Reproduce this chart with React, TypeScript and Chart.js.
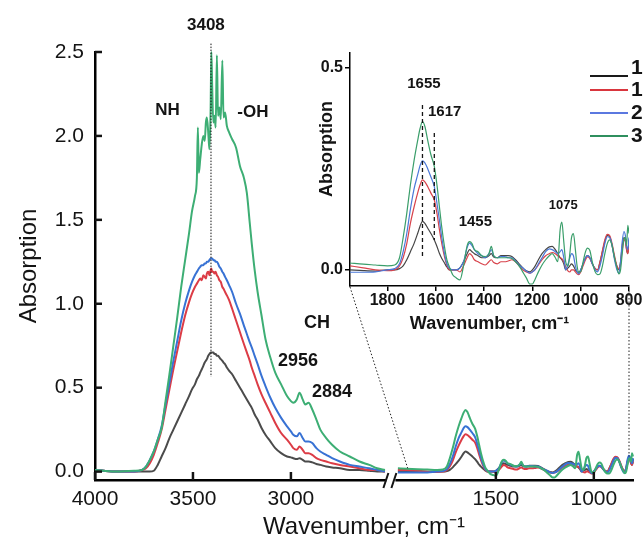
import React, { useEffect, useRef } from 'react';
import { Chart, registerables } from 'chart.js';

Chart.register(...registerables);

const FONT = '"Liberation Sans", Arial, Helvetica, sans-serif';
const INK = '#141414';
Chart.defaults.font.family = FONT;
Chart.defaults.color = INK;

// ---------- data: high-wavenumber section (4000-2500 cm-1) ----------
const wnHigh = [
  4000, 3900, 3800, 3760, 3740, 3720, 3700, 3680, 3660, 3640,
  3620, 3600, 3580, 3560, 3540, 3520, 3505, 3490, 3480, 3475,
  3470, 3463, 3455, 3447, 3440, 3434, 3429, 3422, 3416, 3410,
  3406, 3402, 3396, 3390, 3384, 3378, 3372, 3365, 3358, 3350,
  3344, 3336, 3327, 3315, 3300, 3280, 3260, 3240, 3225, 3210,
  3200, 3185, 3170, 3150, 3130, 3105, 3080, 3050, 3020, 3000,
  2988, 2970, 2956, 2940, 2927, 2910, 2891, 2870, 2850, 2820,
  2790, 2750, 2700, 2650, 2600, 2560, 2520,
];
const greenHigh = [
  0.01, 0.0, 0.005, 0.01, 0.03, 0.07, 0.12, 0.19, 0.26, 0.42,
  0.58, 0.75, 0.92, 1.1, 1.26, 1.42, 1.55, 1.64, 1.75, 2.05,
  1.78, 1.86, 1.95, 2.0, 1.97, 2.08, 2.11, 2.02, 1.92, 2.15,
  2.5, 2.3, 2.08, 2.12, 2.05, 2.48, 2.12, 2.17, 2.1, 2.45,
  2.11, 2.14, 2.06, 2.02, 1.98, 1.93, 1.82, 1.75, 1.66, 1.48,
  1.36, 1.2, 1.07, 0.93, 0.79, 0.68, 0.59, 0.52, 0.45, 0.42,
  0.41, 0.43, 0.47, 0.43, 0.4, 0.41, 0.37, 0.31, 0.25, 0.2,
  0.16, 0.12, 0.09, 0.06, 0.04, 0.02, 0.01,
];
const blueHigh = [
  0.01, 0.0, 0.0, 0.01, 0.03, 0.07, 0.12, 0.19, 0.27, 0.4,
  0.53, 0.66, 0.78, 0.9, 1.0, 1.08, 1.13, 1.17, 1.19, 1.2,
  1.21, 1.22, 1.23, 1.23, 1.24, 1.24, 1.25, 1.25, 1.26, 1.27,
  1.27, 1.27, 1.26, 1.26, 1.25, 1.25, 1.24, 1.22, 1.21, 1.19,
  1.18, 1.16, 1.14, 1.11, 1.07, 1.0, 0.94, 0.87, 0.82, 0.77,
  0.74, 0.69, 0.64, 0.57, 0.51, 0.44, 0.38, 0.32, 0.27, 0.24,
  0.22, 0.21, 0.23, 0.2, 0.18, 0.18, 0.17, 0.14, 0.12, 0.1,
  0.08, 0.06, 0.04, 0.03, 0.02, 0.01, 0.0,
];
const redHigh = [
  0.01, 0.0, 0.0, 0.01, 0.02, 0.05, 0.1, 0.17, 0.25, 0.37,
  0.49, 0.61, 0.72, 0.83, 0.93, 1.01, 1.06, 1.1, 1.12, 1.13,
  1.14, 1.15, 1.14, 1.17, 1.16, 1.15, 1.18, 1.19, 1.17, 1.2,
  1.21, 1.19, 1.19, 1.18, 1.19, 1.17, 1.16, 1.14, 1.13, 1.1,
  1.09, 1.07, 1.05, 1.02, 0.97, 0.9, 0.83, 0.76, 0.71, 0.66,
  0.62, 0.57, 0.52, 0.46, 0.41, 0.35, 0.29, 0.23, 0.19, 0.16,
  0.14, 0.13, 0.15, 0.13, 0.11, 0.11, 0.1, 0.08, 0.07, 0.06,
  0.05, 0.04, 0.03, 0.02, 0.01, 0.01, 0.0,
];
const blackHigh = [
  0.01, 0.0, 0.0, 0.0, 0.0, 0.0, 0.005, 0.04, 0.09, 0.14,
  0.2, 0.25, 0.3, 0.35, 0.4, 0.45, 0.49, 0.52, 0.55, 0.56,
  0.57, 0.59, 0.61, 0.63, 0.65, 0.66, 0.67, 0.69, 0.7, 0.71,
  0.71, 0.71, 0.71, 0.7, 0.7, 0.69, 0.69, 0.68, 0.67, 0.66,
  0.65, 0.64, 0.62, 0.6, 0.58, 0.54, 0.5, 0.46, 0.43, 0.4,
  0.38, 0.34, 0.31, 0.26, 0.22, 0.18, 0.14, 0.11, 0.09, 0.085,
  0.08, 0.075, 0.08, 0.07, 0.06, 0.06, 0.055, 0.045, 0.04, 0.03,
  0.025, 0.02, 0.01, 0.01, 0.005, 0.0, 0.0,
];

// ---------- data: low-wavenumber section (2000-800 cm-1) ----------
const wnLow = [
  2000, 1955, 1900, 1850, 1800, 1770, 1750, 1735, 1720, 1705,
  1690, 1675, 1665, 1655, 1645, 1633, 1620, 1606, 1595, 1585,
  1575, 1564, 1554, 1544, 1530, 1515, 1500, 1485, 1470, 1460,
  1450, 1440, 1425, 1410, 1395, 1380, 1370, 1360, 1345, 1330,
  1315, 1300, 1285, 1270, 1255, 1240, 1225, 1210, 1200, 1190,
  1175, 1160, 1145, 1130, 1118, 1105, 1095, 1085, 1078, 1070,
  1062, 1052, 1045, 1038, 1030, 1022, 1015, 1008, 1000, 990,
  980, 972, 962, 952, 940, 930, 920, 910, 900, 890,
  880, 870, 860, 850, 842, 835, 828, 821, 815, 810,
  805, 800,
];
const greenLow = [
  0.02, 0.017, 0.014, 0.012, 0.01, 0.012, 0.03, 0.08, 0.14, 0.21,
  0.27, 0.32, 0.35, 0.367, 0.355, 0.32, 0.285, 0.256, 0.21, 0.157,
  0.105, 0.058, 0.025, 0.008, -0.012, -0.02, -0.025, 0.01, 0.06, 0.07,
  0.065, 0.05, 0.045, 0.035, 0.033, 0.04, 0.058, 0.035, 0.03, 0.03,
  0.03, 0.03, 0.028, 0.02, 0.01, -0.005, -0.02, -0.035, -0.035, -0.025,
  -0.005, 0.012, 0.025, 0.035, 0.04, 0.03, 0.02, 0.1, 0.118, 0.07,
  0.02, 0.01, 0.04, 0.08, 0.09, 0.05, 0.01, -0.005, -0.005, 0.02,
  0.045, 0.054, 0.048, 0.02, -0.005, -0.012, -0.01, 0.01, 0.04, 0.065,
  0.074, 0.06, 0.03, 0.005, -0.01, 0.0, 0.04, 0.075, 0.08, 0.06,
  0.11, 0.09,
];
const blueLow = [
  -0.005, -0.006, -0.006, -0.005, 0.0, 0.003, 0.015, 0.045, 0.09, 0.15,
  0.2, 0.235, 0.258, 0.27, 0.265, 0.25, 0.23, 0.206, 0.165, 0.124,
  0.08, 0.041, 0.015, 0.004, 0.0, 0.0, 0.005, 0.02, 0.055, 0.066,
  0.06, 0.05, 0.04, 0.035, 0.03, 0.04, 0.05, 0.035, 0.03, 0.033,
  0.033, 0.03, 0.03, 0.022, 0.012, 0.005, -0.003, -0.008, -0.005, 0.0,
  0.015, 0.03, 0.045, 0.052, 0.05, 0.045, 0.04, 0.045, 0.05, 0.03,
  0.0, 0.015, 0.03, 0.04, 0.035, 0.01, -0.005, -0.01, 0.0, 0.015,
  0.03, 0.035, 0.03, 0.015, 0.0, -0.005, 0.01, 0.035, 0.065, 0.082,
  0.08, 0.06, 0.025, 0.0, -0.008, 0.02, 0.07, 0.095, 0.085, 0.06,
  0.05, 0.08,
];
const redLow = [
  0.01, 0.01, 0.005, 0.0, -0.002, 0.0, 0.01, 0.03, 0.065, 0.115,
  0.155, 0.19, 0.21, 0.223, 0.218, 0.206, 0.19, 0.173, 0.14, 0.1,
  0.065, 0.033, 0.012, 0.0, 0.0, 0.0, -0.005, 0.01, 0.03, 0.04,
  0.035, 0.025, 0.02, 0.015, 0.012, 0.02, 0.025, 0.018, 0.015, 0.02,
  0.02, 0.022, 0.025, 0.02, 0.01, 0.0, -0.005, -0.008, -0.005, 0.0,
  0.012, 0.025, 0.035, 0.04, 0.043, 0.04, 0.035, 0.03, 0.028, 0.02,
  0.008, -0.003, -0.005, 0.0, 0.0, -0.005, -0.01, -0.012, -0.005, 0.01,
  0.025, 0.032, 0.028, 0.015, 0.003, 0.0, 0.02, 0.048, 0.075, 0.088,
  0.085, 0.065, 0.035, 0.01, 0.003, 0.015, 0.05, 0.075, 0.07, 0.05,
  0.04, 0.06,
];
const blackLow = [
  0.0, 0.0, -0.002, -0.003, 0.0, 0.0, 0.003, 0.01, 0.025, 0.045,
  0.065, 0.09, 0.108, 0.12, 0.115, 0.103, 0.09, 0.074, 0.058, 0.041,
  0.028, 0.017, 0.007, 0.0, 0.0, 0.0, 0.005, 0.02, 0.04, 0.05,
  0.045, 0.04, 0.035, 0.03, 0.03, 0.035, 0.04, 0.032, 0.03, 0.035,
  0.035, 0.035, 0.033, 0.025, 0.015, 0.005, -0.002, -0.005, 0.0, 0.008,
  0.025, 0.04, 0.05, 0.057, 0.058, 0.05, 0.04, 0.03, 0.025, 0.015,
  0.0, 0.005, 0.01, 0.015, 0.01, 0.0, -0.005, -0.008, 0.0, 0.015,
  0.03, 0.035, 0.03, 0.015, 0.003, 0.0, 0.02, 0.045, 0.07, 0.085,
  0.082, 0.06, 0.03, 0.008, 0.0, 0.02, 0.06, 0.08, 0.075, 0.05,
  0.04, 0.075,
];

// ---------- series / ticks / labels ----------
const legendLabels = ['1', '1', '2', '3'];
const mainColors = ['#4b4b4b', '#dc3c46', '#3872d4', '#3dae74'];
const insetColors = ['#454545', '#d8434b', '#4a78d8', '#3a9e6a'];
const legendColors = ['#1a1a1a', '#d9363e', '#5b78e0', '#2f8f5e'];

const mainXTicks = [4000, 3500, 3000, 1500, 1000];
const mainYTicks = [0, 0.5, 1.0, 1.5, 2.0, 2.5];
const insetXTicks = [1800, 1600, 1400, 1200, 1000, 800];
const insetYTicks = [0, 0.5];

const mainAnnotations = [
  { text: '3408', wn: 3434, abs: 2.66, size: 17 },
  { text: 'NH', wn: 3630, abs: 2.15, size: 17 },
  { text: '-OH', wn: 3194, abs: 2.14, size: 17 },
  { text: 'CH', wn: 2867, abs: 0.885, size: 18 },
  { text: '2956', wn: 2964, abs: 0.66, size: 18 },
  { text: '2884', wn: 2790, abs: 0.474, size: 18 },
];
const insetAnnotations = [
  { text: '1655', wn: 1649, abs: 0.46, size: 15 },
  { text: '1617', wn: 1563, abs: 0.392, size: 15 },
  { text: '1455', wn: 1436, abs: 0.119, size: 15 },
  { text: '1075', wn: 1072, abs: 0.159, size: 13 },
];

// broken x-axis mapping: 4000-2500 | gap | 2000-800
const HIGH_END = 2500;
const LOW_START = 2000;
const GAP = 46;
const toMainX = (w: number) =>
  w >= 2250 ? 4000 - w : 4000 - HIGH_END + GAP + (LOW_START - w);
const fromMainX = (x: number) =>
  x <= 4000 - HIGH_END ? 4000 - x : LOW_START - (x - (4000 - HIGH_END) - GAP);
const MAIN_X_MAX = toMainX(800);

const highSeries = [greenHigh, blueHigh, redHigh, blackHigh];
const lowSeries = [greenLow, blueLow, redLow, blackLow];
// drawing order: first dataset is drawn on top
const drawOrder = [3, 2, 1, 0]; // indexes into legend/colour arrays (black,red,blue,green)

function buildMainDatasets() {
  const ds: any[] = [];
  highSeries.forEach((vals, k) => {
    const ci = drawOrder[k];
    ds.push({
      data: wnHigh.map((w, i) => ({ x: toMainX(w), y: vals[i] })),
      borderColor: mainColors[ci],
      borderWidth: 2,
      pointRadius: 0,
      cubicInterpolationMode: 'monotone',
      clip: 4,
    });
  });
  lowSeries.forEach((vals, k) => {
    const ci = drawOrder[k];
    ds.push({
      data: wnLow.map((w, i) => ({ x: toMainX(w), y: vals[i] })),
      borderColor: mainColors[ci],
      borderWidth: 2,
      pointRadius: 0,
      cubicInterpolationMode: 'monotone',
      clip: 4,
    });
  });
  return ds;
}

function buildInsetDatasets() {
  return lowSeries.map((vals, k) => {
    const ci = drawOrder[k];
    const pts = wnLow
      .map((w, i) => ({ x: w, y: vals[i] }))
      .filter((p) => p.x <= 1960);
    return {
      data: pts,
      borderColor: insetColors[ci],
      borderWidth: 1.2,
      pointRadius: 0,
      cubicInterpolationMode: 'monotone',
    };
  });
}

const mainDecor = {
  id: 'mainDecor',
  afterDraw(chart: any) {
    const { ctx, chartArea: ca, scales } = chart;
    const x = scales.x;
    const y = scales.y;
    ctx.save();
    ctx.strokeStyle = INK;
    ctx.lineWidth = 2.5;
    // inward tick marks
    mainYTicks.forEach((v) => {
      const py = y.getPixelForValue(v);
      ctx.beginPath();
      ctx.moveTo(ca.left, py);
      ctx.lineTo(ca.left + 7, py);
      ctx.stroke();
    });
    mainXTicks.forEach((w) => {
      const px = x.getPixelForValue(toMainX(w));
      ctx.beginPath();
      ctx.moveTo(px, ca.bottom);
      ctx.lineTo(px, ca.bottom - 8);
      ctx.stroke();
    });
    // axis break
    const bx =
      (x.getPixelForValue(toMainX(HIGH_END)) + x.getPixelForValue(toMainX(LOW_START))) / 2 - 2;
    ctx.fillStyle = '#ffffff';
    ctx.fillRect(bx - 5, ca.bottom - 3, 9, 6);
    ctx.lineWidth = 2;
    ctx.beginPath();
    ctx.moveTo(bx - 8, ca.bottom + 8);
    ctx.lineTo(bx - 3, ca.bottom - 7);
    ctx.moveTo(bx, ca.bottom + 8);
    ctx.lineTo(bx + 5, ca.bottom - 7);
    ctx.stroke();
    // dotted line at 3408
    ctx.lineWidth = 1;
    ctx.setLineDash([1.5, 1.5]);
    const lx = x.getPixelForValue(toMainX(3408));
    ctx.beginPath();
    ctx.moveTo(lx, y.getPixelForValue(2.55));
    ctx.lineTo(lx, y.getPixelForValue(0.565));
    ctx.stroke();
    ctx.setLineDash([]);
    // annotations
    ctx.fillStyle = INK;
    ctx.textAlign = 'center';
    ctx.textBaseline = 'middle';
    mainAnnotations.forEach((a) => {
      ctx.font = `bold ${a.size}px ${FONT}`;
      ctx.fillText(a.text, x.getPixelForValue(toMainX(a.wn)), y.getPixelForValue(a.abs));
    });
    ctx.restore();
  },
};

function makeInsetDecor(getMain: () => any) {
  return {
    id: 'insetDecor',
    afterDraw(chart: any) {
      const { ctx, chartArea: ca, scales } = chart;
      const x = scales.x;
      const y = scales.y;
      ctx.save();
      // dashed marker lines
      ctx.strokeStyle = INK;
      ctx.lineWidth = 1.3;
      ctx.setLineDash([4, 3]);
      ctx.beginPath();
      ctx.moveTo(x.getPixelForValue(1655), y.getPixelForValue(0.408));
      ctx.lineTo(x.getPixelForValue(1655), y.getPixelForValue(0.03));
      ctx.moveTo(x.getPixelForValue(1606), y.getPixelForValue(0.339));
      ctx.lineTo(x.getPixelForValue(1606), y.getPixelForValue(0.074));
      ctx.stroke();
      ctx.setLineDash([]);
      // annotations
      ctx.fillStyle = INK;
      ctx.textAlign = 'center';
      ctx.textBaseline = 'middle';
      insetAnnotations.forEach((a) => {
        ctx.font = `bold ${a.size}px ${FONT}`;
        ctx.fillText(a.text, x.getPixelForValue(a.wn), y.getPixelForValue(a.abs));
      });
      // y title
      ctx.save();
      ctx.translate(ca.left - 23, ca.top + 96);
      ctx.rotate(-Math.PI / 2);
      ctx.font = `bold 18px ${FONT}`;
      ctx.fillText('Absorption', 0, 0);
      ctx.restore();
      // legend (extends past the right edge, as in the reference)
      const lineY = [76, 90, 113, 136];
      const textY = [68, 90, 113, 136];
      ctx.textAlign = 'left';
      ctx.font = `bold 21px ${FONT}`;
      legendLabels.forEach((lab, i) => {
        ctx.strokeStyle = legendColors[i];
        ctx.lineWidth = 2;
        ctx.beginPath();
        ctx.moveTo(ca.right - 39, lineY[i]);
        ctx.lineTo(ca.right - 1, lineY[i]);
        ctx.stroke();
        ctx.fillStyle = INK;
        ctx.fillText(lab, ca.right + 2, textY[i]);
      });
      // connector lines to main chart
      const main = getMain();
      if (main && main.scales && main.scales.x) {
        const mx = main.scales.x;
        const my = main.scales.y;
        ctx.strokeStyle = '#222';
        ctx.lineWidth = 1;
        ctx.setLineDash([1.5, 2]);
        ctx.beginPath();
        ctx.moveTo(ca.left, ca.bottom + 1);
        ctx.lineTo(mx.getPixelForValue(toMainX(1950)), my.getPixelForValue(0.02));
        const vx = x.getPixelForValue(800);
        ctx.moveTo(vx, ca.bottom + 5);
        ctx.lineTo(vx, my.getPixelForValue(0.09));
        ctx.stroke();
        ctx.setLineDash([]);
      }
      ctx.restore();
    },
  };
}

export default function App() {
  const mainRef = useRef<HTMLCanvasElement>(null);
  const insetRef = useRef<HTMLCanvasElement>(null);

  useEffect(() => {
    const main = new Chart(mainRef.current as HTMLCanvasElement, {
      type: 'line',
      data: { datasets: buildMainDatasets() },
      options: {
        responsive: false,
        animation: false,
        layout: { padding: { top: 52, right: 10, left: 0, bottom: 0 } },
        plugins: { legend: { display: false }, tooltip: { enabled: false } },
        scales: {
          x: {
            type: 'linear',
            min: 0,
            max: MAIN_X_MAX,
            grid: { display: false, drawTicks: false },
            border: { display: true, color: '#000', width: 2.5 },
            afterBuildTicks: (s: any) => {
              s.ticks = mainXTicks.map((w) => ({ value: toMainX(w) }));
            },
            afterFit: (s: any) => {
              s.height = 70;
            },
            ticks: {
              autoSkip: false,
              maxRotation: 0,
              padding: 7,
              color: INK,
              font: { size: 21, family: FONT },
              callback: (v: any) => String(Math.round(fromMainX(Number(v)))),
            },
            title: {
              display: true,
              text: 'Wavenumber, cm⁻¹',
              color: INK,
              font: { size: 24, family: FONT },
              padding: { top: 0, bottom: 8 },
            },
          },
          y: {
            type: 'linear',
            min: -0.05,
            max: 2.5,
            grid: { display: false, drawTicks: false },
            border: { display: true, color: '#000', width: 2.5 },
            afterBuildTicks: (s: any) => {
              s.ticks = mainYTicks.map((v) => ({ value: v }));
            },
            afterFit: (s: any) => {
              s.width = 95;
            },
            ticks: {
              autoSkip: false,
              padding: 11,
              color: INK,
              font: { size: 21, family: FONT },
              callback: (v: any) => Number(v).toFixed(1),
            },
            title: {
              display: true,
              text: 'Absorption',
              color: INK,
              font: { size: 24, family: FONT },
              padding: { top: 15, bottom: 0 },
            },
          },
        },
      } as any,
      plugins: [mainDecor],
    } as any);

    const inset = new Chart(insetRef.current as HTMLCanvasElement, {
      type: 'line',
      data: { datasets: buildInsetDatasets() },
      options: {
        responsive: false,
        animation: false,
        layout: { padding: { top: 53, right: 14, left: 290, bottom: 210 } },
        plugins: { legend: { display: false }, tooltip: { enabled: false } },
        scales: {
          x: {
            type: 'linear',
            reverse: true,
            min: 800,
            max: 1955,
            grid: {
              display: true,
              drawOnChartArea: false,
              drawTicks: true,
              tickLength: 5,
              color: '#000',
              lineWidth: 1.5,
            },
            border: { display: true, color: '#000', width: 1.5 },
            afterBuildTicks: (s: any) => {
              s.ticks = insetXTicks.map((w) => ({ value: w }));
            },
            afterFit: (s: any) => {
              s.height = 54;
            },
            ticks: {
              autoSkip: false,
              maxRotation: 0,
              padding: 0,
              color: INK,
              font: { size: 16, weight: 'bold', family: FONT },
              callback: (v: any) => String(v),
            },
            title: {
              display: true,
              text: 'Wavenumber, cm⁻¹',
              color: INK,
              font: { size: 18, weight: 'bold', family: FONT },
              padding: { top: 0, bottom: 5 },
            },
          },
          y: {
            type: 'linear',
            min: -0.04,
            max: 0.537,
            grid: {
              display: true,
              drawOnChartArea: false,
              drawTicks: true,
              tickLength: 5,
              color: '#000',
              lineWidth: 1.5,
            },
            border: { display: true, color: '#000', width: 1.5 },
            afterBuildTicks: (s: any) => {
              s.ticks = insetYTicks.map((v) => ({ value: v }));
            },
            afterFit: (s: any) => {
              s.width = 60;
            },
            ticks: {
              autoSkip: false,
              padding: 2,
              color: INK,
              font: { size: 16, weight: 'bold', family: FONT },
              callback: (v: any) => Number(v).toFixed(1),
            },
            title: { display: false },
          },
        },
      } as any,
      plugins: [makeInsetDecor(() => main)],
    } as any);

    return () => {
      inset.destroy();
      main.destroy();
    };
  }, []);

  return (
    <div
      style={{
        position: 'fixed',
        left: 0,
        top: 0,
        width: 643,
        height: 550,
        background: '#ffffff',
        overflow: 'hidden',
      }}
    >
      <canvas
        ref={mainRef}
        width={643}
        height={550}
        style={{ position: 'absolute', left: 0, top: 0 }}
      />
      <canvas
        ref={insetRef}
        width={643}
        height={550}
        style={{ position: 'absolute', left: 0, top: 0, pointerEvents: 'none' }}
      />
    </div>
  );
}
